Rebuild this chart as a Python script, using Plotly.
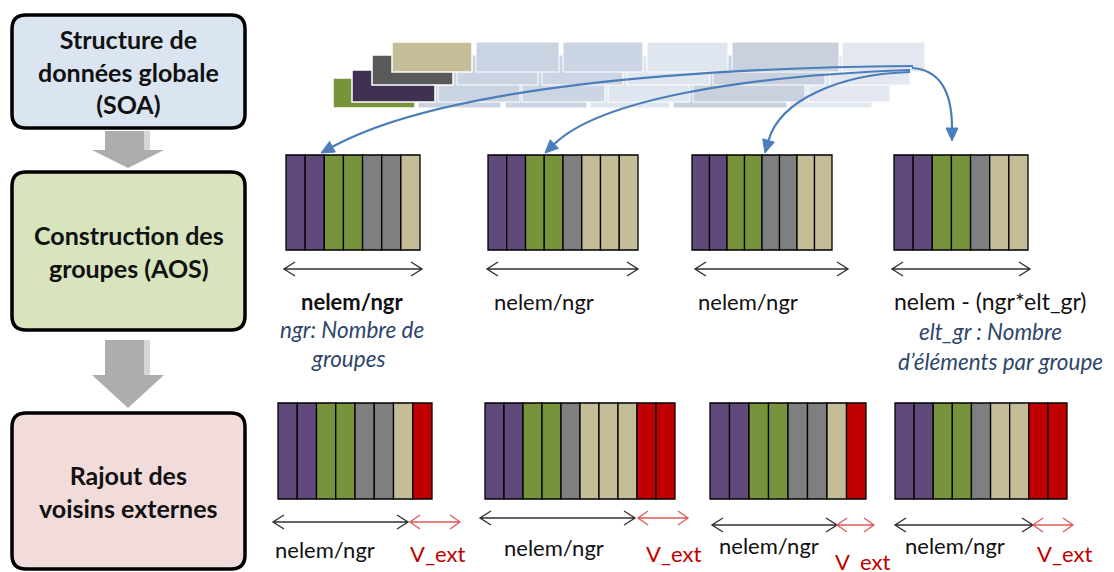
import plotly.graph_objects as go

# --- donnees du schema ---
etapes = ["Structure de<br>données globale<br>(SOA)",
          "Construction des<br>groupes (AOS)",
          "Rajout des<br>voisins externes"]

soa_couches = ["vert", "violet", "gris", "beige"]  # de l'arriere vers l'avant

aos_groupes = [
    ["violet", "violet", "vert", "vert", "gris", "gris", "beige"],
    ["violet", "violet", "vert", "vert", "gris", "beige", "beige", "beige"],
    ["violet", "violet", "vert", "vert", "gris", "gris", "beige", "beige"],
    ["violet", "violet", "vert", "vert", "gris", "beige", "beige"],
]
ext_groupes = [
    ["violet", "violet", "vert", "vert", "gris", "gris", "beige", "rouge"],
    ["violet", "violet", "vert", "vert", "gris", "beige", "beige", "beige", "rouge", "rouge"],
    ["violet", "violet", "vert", "vert", "gris", "gris", "beige", "rouge"],
    ["violet", "violet", "vert", "vert", "gris", "beige", "beige", "rouge", "rouge"],
]

aos_labels = ["<b>nelem/ngr</b>", "nelem/ngr", "nelem/ngr", "nelem - (ngr*elt_gr)"]
aos_notes = [["ngr: Nombre de", "groupes"], [], [], ["elt_gr : Nombre", "d’éléments par groupe"]]
ext_labels = ["nelem/ngr", "nelem/ngr", "nelem/ngr", "nelem/ngr"]
voisin_label = "V_ext"

# --- styles / positions ---
COULEURS = {"violet": "#604a7b", "vert": "#77933c", "gris": "#7f7f7f",
            "beige": "#c4bd97", "rouge": "#c00000"}
FOND_ETAPES = ["#dbe5f1", "#d7e4bd", "#f2dcdb"]
BOITES = [(12, 15, 245, 128), (12, 172, 245, 330), (12, 413, 245, 569)]
FLECHES_GRISES = [(131, 150, 168), (340, 375, 408)]

SOA_BLOCS = [(333, 78, 415, 108), (352, 70, 435, 102), (372, 55, 453, 85), (392, 42, 472, 72)]
SOA_CELLULES = [
    [(418, 501), (505, 587), (590, 670), (673, 787), (790, 872)],
    [(438, 520), (522, 605), (608, 690), (693, 805), (808, 890)],
    [(457, 538), (542, 623), (627, 710), (713, 825), (830, 910)],
    [(476, 559), (563, 643), (647, 728), (732, 839), (842, 925)],
]
SOA_TEINTES = ["#cad3e1", "#ccd5e3", "#e0e6ef", "#c9d1de", "#e3e8f0"]

AOS_X = [(286, 420), (488, 638), (692, 832), (894, 1028)]
AOS_Y = (155, 250)
EXT_X = [(278, 432), (485, 675), (710, 866), (895, 1067)]
EXT_Y = (403, 499)

AOS_FLECHES = [(284, 422), (487, 638), (695, 848), (892, 1030)]
AOS_TXT_X = [352, 544, 748, 990]
NOTES_POS = [[(352, 329), (348, 358)], [], [], [(990, 331), (1000, 361)]]
EXT_FLECHES = [(273, 408, 522), (480, 635, 518), (712, 837, 525), (895, 1033, 525)]
EXT_ROUGES = [(410, 460), (638, 688), (837, 874), (1033, 1073)]
EXT_TXT = [(325, 549), (554, 547), (769, 545), (955, 545)]
VEXT_TXT = [(437, 553), (673, 553), (862, 561), (1064, 553)]

BLEU = "#4a7ebb"
COURBES = [
    [(913, 66), (680, 68), (440, 88), (321, 153)],
    [(910, 70), (740, 76), (600, 100), (545, 153)],
    [(910, 72), (840, 74), (780, 100), (765, 153)],
    [(912, 68), (942, 70), (952, 95), (952, 141)],
]

POLICE = "Lato"

fig = go.Figure()
shapes = []


def rect(x0, y0, x1, y1, fill, line="black", lw=1.3):
    shapes.append(dict(type="rect", x0=x0, y0=y0, x1=x1, y1=y1, fillcolor=fill,
                       line=dict(color=line, width=lw), layer="above"))


def rrect_path(x0, y0, x1, y1, r):
    return (f"M{x0+r},{y0} L{x1-r},{y0} Q{x1},{y0} {x1},{y0+r} L{x1},{y1-r} "
            f"Q{x1},{y1} {x1-r},{y1} L{x0+r},{y1} Q{x0},{y1} {x0},{y1-r} "
            f"L{x0},{y0+r} Q{x0},{y0} {x0+r},{y0} Z")


def double_fleche(x0, x1, y, color, lw=1.4, tete=11, h=7):
    p = (f"M{x0+tete},{y-h} L{x0},{y} L{x0+tete},{y+h} M{x0},{y} L{x1},{y} "
         f"M{x1-tete},{y-h} L{x1},{y} L{x1-tete},{y+h}")
    shapes.append(dict(type="path", path=p, line=dict(color=color, width=lw)))


def texte(x, y, t, size=22, color="#111111", bold=False, italic=False):
    if bold:
        t = f"<b>{t}</b>"
    if italic:
        t = f"<i>{t}</i>"
    fig.add_annotation(x=x, y=y, text=t, showarrow=False, xanchor="center", yanchor="middle",
                       font=dict(family=POLICE, size=size, color=color))


# boites des etapes
for (x0, y0, x1, y1), fond, t in zip(BOITES, FOND_ETAPES, etapes):
    shapes.append(dict(type="path", path=rrect_path(x0, y0, x1, y1, 14), fillcolor=fond,
                       line=dict(color="black", width=3.5)))
    texte((x0 + x1) / 2, (y0 + y1) / 2, t, size=25, bold=True)

# fleches grises entre etapes
for ys0, ys1, yt in FLECHES_GRISES:
    p = f"M105,{ys0} L150,{ys0} L150,{ys1} L164,{ys1} L128,{yt} L92,{ys1} L105,{ys1} Z"
    shapes.append(dict(type="path", path=p, fillcolor="#adadad", line=dict(width=0)))
    shapes.append(dict(type="rect", x0=144, x1=150, y0=ys0, y1=ys1, fillcolor="#d6d6d6",
                       line=dict(width=0)))

# structure SOA (couches empilees)
for couche, (bx0, by0, bx1, by1), cellules in zip(soa_couches, SOA_BLOCS, SOA_CELLULES):
    for (cx0, cx1), teinte in zip(cellules, SOA_TEINTES):
        shapes.append(dict(type="rect", x0=cx0, x1=cx1, y0=by0, y1=by1, fillcolor=teinte,
                           line=dict(color="white", width=1)))
    shapes.append(dict(type="rect", x0=bx0, x1=bx1, y0=by0, y1=by1,
                       fillcolor={"gris": "#595959", "violet": "#3f3151"}.get(couche, COULEURS[couche]),
                       line=dict(color="white", width=1.5)))

fig.add_trace(go.Scatter(x=[759, 792, 823, 722, 753, 786], y=[56, 56, 56, 88, 88, 88],
                         mode="markers", marker=dict(color="#222222", size=[5, 5, 5, 4, 4, 4]),
                         hoverinfo="skip"))

# groupes AOS
for cells, (x0, x1) in zip(aos_groupes, AOS_X):
    w = (x1 - x0) / len(cells)
    for i, c in enumerate(cells):
        rect(x0 + i * w, AOS_Y[0], x0 + (i + 1) * w, AOS_Y[1], COULEURS[c])

# groupes avec voisins externes
for cells, (x0, x1) in zip(ext_groupes, EXT_X):
    w = (x1 - x0) / len(cells)
    for i, c in enumerate(cells):
        rect(x0 + i * w, EXT_Y[0], x0 + (i + 1) * w, EXT_Y[1], COULEURS[c])

# courbes bleues
for (p0, p1, p2, p3) in COURBES:
    dx, dy = p3[0] - p2[0], p3[1] - p2[1]
    n = (dx * dx + dy * dy) ** 0.5
    ux, uy = dx / n, dy / n
    bx, by = p3[0] - 13 * ux, p3[1] - 13 * uy
    shapes.append(dict(type="path",
                       path=f"M{p0[0]},{p0[1]} C{p1[0]},{p1[1]} {p2[0]},{p2[1]} {bx},{by}",
                       line=dict(color=BLEU, width=2.2)))
    shapes.append(dict(type="path",
                       path=(f"M{p3[0]},{p3[1]} L{bx - 6 * uy},{by + 6 * ux} "
                             f"L{bx + 6 * uy},{by - 6 * ux} Z"),
                       fillcolor=BLEU, line=dict(color=BLEU, width=1)))

# fleches et textes sous les groupes AOS
for (x0, x1), tx, lab, notes, npos in zip(AOS_FLECHES, AOS_TXT_X, aos_labels, aos_notes, NOTES_POS):
    double_fleche(x0, x1, 269, "#333333")
    texte(tx, 301, lab, size=23 if "(" in lab else 22)
    for n, (nx, ny) in zip(notes, npos):
        texte(nx, ny, n, size=22.5, color="#2f466b", italic=True)

# fleches et textes sous les groupes etendus
for (x0, x1, y), (r0, r1), lab, (tx, ty), (vx, vy) in zip(EXT_FLECHES, EXT_ROUGES, ext_labels,
                                                         EXT_TXT, VEXT_TXT):
    double_fleche(x0, x1, y, "#333333")
    double_fleche(r0, r1, y, "#e05a5a", lw=1.3, tete=10, h=7)
    texte(tx, ty, lab, size=22)
    texte(vx, vy, voisin_label, size=22, color="#c00000")

fig.update_layout(
    width=1114, height=572,
    margin=dict(l=0, r=0, t=0, b=0),
    plot_bgcolor="white", paper_bgcolor="white",
    showlegend=False,
    xaxis=dict(range=[0, 1114], visible=False, fixedrange=True),
    yaxis=dict(range=[572, 0], visible=False, fixedrange=True),
    shapes=shapes,
)

fig.write_html("out.html", config={"displayModeBar": False},
               post_script="document.body.style.margin='0';document.body.style.overflow='hidden';")
